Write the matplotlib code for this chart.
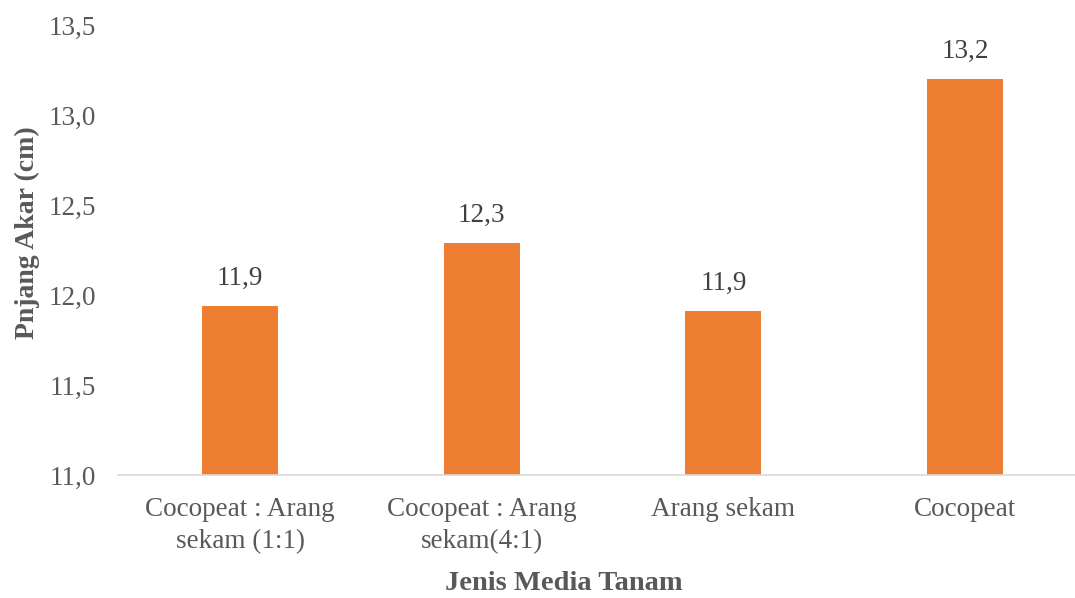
import matplotlib.pyplot as plt

plt.rcParams['font.family'] = ['Liberation Serif', 'DejaVu Serif']

categories = ['Cocopeat : Arang\nsekam (1:1)', 'Cocopeat : Arang\nsekam(4:1)',
              'Arang sekam', 'Cocopeat']
values = [11.94, 12.29, 11.91, 13.2]
yticks = [11.0, 11.5, 12.0, 12.5, 13.0, 13.5]

txt = '#595959'
fig = plt.figure(figsize=(10.75, 5.98), dpi=100)
ax = fig.add_axes([0.1098, 0.2057, 0.8902, 0.7525])

x = range(len(categories))
ax.bar(x, values, width=0.315, color='#ED7D31', zorder=2)

for xi, v in zip(x, values):
    ax.text(xi, v + 0.085, f'{v:.1f}'.replace('.', ','), ha='center', va='bottom',
            fontsize=19.5, color='#404040')

ax.set_xlim(-0.505, 3.455)
ax.set_ylim(11.0, 13.5)
ax.set_yticks(yticks)
ax.set_yticklabels([f'{t:.1f}'.replace('.', ',') for t in yticks])
ax.set_xticks(list(x))
ax.set_xticklabels(categories, linespacing=1.35)

for s in ['top', 'right', 'left']:
    ax.spines[s].set_visible(False)
ax.spines['bottom'].set_color('#D9D9D9')
ax.spines['bottom'].set_linewidth(1.2)
ax.tick_params(axis='both', length=0, labelsize=19.5, colors=txt)
ax.tick_params(axis='x', pad=16)
ax.tick_params(axis='y', pad=16)

ax.set_ylabel('Pnjang Akar (cm)', fontsize=20, fontweight='bold', color=txt, va='center')
ax.yaxis.set_label_coords(-(118 - 27) / (1075 - 118), (475 - 233) / 450)
ax.set_xlabel('Jenis Media Tanam', fontsize=20.5, fontweight='bold', color=txt, va='center')
ax.xaxis.set_label_coords((564 - 118) / (1075 - 118), -(584 - 475) / 450)

fig.savefig('out.png', dpi=100)
